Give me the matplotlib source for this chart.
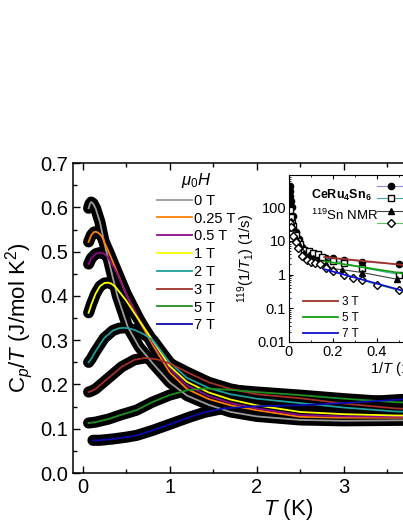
import numpy as np
import matplotlib.pyplot as plt
from matplotlib import ticker

plt.rcParams.update({
    'font.family': 'Liberation Sans',
    'mathtext.fontset': 'custom',
    'mathtext.rm': 'Liberation Sans',
    'mathtext.it': 'Liberation Sans:italic',
    'mathtext.bf': 'Liberation Sans:bold',
    'xtick.direction': 'in',
    'ytick.direction': 'in',
    'xtick.top': True,
    'ytick.right': True,
})

# --- main panel: C_p/T vs T ---
fields = ['0 T', '0.25 T', '0.5 T', '1 T', '2 T', '3 T', '5 T', '7 T']
colors = ['#9a9a9a', '#ff8000', '#8b0a8b', '#ffff00', '#1f9e9e', '#a3302a', '#1f8f1f', '#0a0ab0']

T_0 = [0.07, 0.085, 0.1, 0.12, 0.15, 0.2, 0.25, 0.31, 0.4, 0.52, 0.65, 0.81, 1.0, 1.2, 1.45, 1.7, 2.0, 2.5, 3.0, 3.6, 4.2, 4.8]
C_0 = [0.598, 0.608, 0.612, 0.609, 0.598, 0.567, 0.52, 0.472, 0.40, 0.33, 0.285, 0.247, 0.205, 0.175, 0.154, 0.138, 0.128, 0.120, 0.118, 0.119, 0.120, 0.121]

T_025 = [0.07, 0.1, 0.13, 0.15, 0.18, 0.22, 0.3, 0.39, 0.5, 0.65, 0.81, 1.0, 1.2, 1.45, 1.7, 2.0, 2.5, 3.0, 3.6, 4.2, 4.8]
C_025 = [0.522, 0.537, 0.544, 0.545, 0.543, 0.535, 0.50, 0.457, 0.405, 0.345, 0.288, 0.228, 0.190, 0.167, 0.153, 0.142, 0.127, 0.125, 0.125, 0.126, 0.127]

T_05 = [0.07, 0.1, 0.15, 0.2, 0.25, 0.3, 0.4, 0.5, 0.65, 0.81, 1.0, 1.2, 1.45, 1.7, 2.0, 2.5, 3.0, 3.6, 4.2, 4.8]
C_05 = [0.472, 0.485, 0.495, 0.498, 0.495, 0.485, 0.45, 0.405, 0.348, 0.294, 0.236, 0.198, 0.174, 0.158, 0.146, 0.131, 0.128, 0.127, 0.128, 0.129]

T_1 = [0.07, 0.1, 0.15, 0.2, 0.25, 0.29, 0.33, 0.38, 0.5, 0.65, 0.81, 1.0, 1.2, 1.45, 1.7, 2.0, 2.5, 3.0, 3.6, 4.2, 4.8]
C_1 = [0.362, 0.38, 0.405, 0.422, 0.429, 0.43, 0.428, 0.42, 0.39, 0.345, 0.298, 0.242, 0.206, 0.182, 0.166, 0.153, 0.138, 0.133, 0.130, 0.130, 0.131]

T_2 = [0.07, 0.1, 0.15, 0.25, 0.35, 0.42, 0.47, 0.53, 0.6, 0.7, 0.81, 1.0, 1.2, 1.45, 1.7, 2.0, 2.5, 3.0, 3.6, 4.2, 4.8]
C_2 = [0.25, 0.258, 0.275, 0.305, 0.322, 0.327, 0.328, 0.327, 0.323, 0.314, 0.300, 0.250, 0.215, 0.192, 0.178, 0.168, 0.158, 0.148, 0.139, 0.136, 0.136]

T_3 = [0.07, 0.1, 0.15, 0.3, 0.45, 0.6, 0.72, 0.85, 1.0, 1.2, 1.45, 1.7, 2.0, 2.5, 3.0, 3.6, 4.2, 4.8]
C_3 = [0.183, 0.185, 0.19, 0.215, 0.24, 0.256, 0.26, 0.257, 0.248, 0.228, 0.205, 0.19, 0.178, 0.169, 0.157, 0.146, 0.142, 0.14]

T_5 = [0.07, 0.15, 0.3, 0.45, 0.62, 0.8, 1.0, 1.2, 1.4, 1.7, 2.0, 2.5, 3.0, 3.6, 4.2, 4.8]
C_5 = [0.113, 0.115, 0.122, 0.132, 0.142, 0.16, 0.176, 0.187, 0.191, 0.188, 0.183, 0.176, 0.168, 0.16, 0.156, 0.154]

T_7 = [0.12, 0.2, 0.35, 0.5, 0.62, 0.8, 1.0, 1.24, 1.4, 1.62, 2.0, 2.5, 3.0, 3.65, 4.2, 4.8]
C_7 = [0.074, 0.074, 0.077, 0.081, 0.085, 0.096, 0.11, 0.127, 0.137, 0.146, 0.151, 0.153, 0.158, 0.166, 0.17, 0.174]

T_all = [T_0, T_025, T_05, T_1, T_2, T_3, T_5, T_7]
C_all = [C_0, C_025, C_05, C_1, C_2, C_3, C_5, C_7]

# --- inset: 119Sn NMR 1/T1 vs 1/T ---
x_circ = [0.003, 0.005, 0.007, 0.01, 0.014, 0.02, 0.03, 0.045, 0.06, 0.08, 0.1, 0.12, 0.14, 0.167, 0.2, 0.25, 0.333, 0.5]
y_circ = [420, 300, 220, 150, 100, 56, 18, 11, 6.5, 5, 4.2, 3.8, 3.4, 3.2, 3.0, 2.8, 2.4, 2.0]
x_sq = [0.005, 0.01, 0.015, 0.02, 0.03, 0.04, 0.05, 0.07, 0.09, 0.11, 0.13, 0.15, 0.2, 0.25, 0.333, 0.5]
y_sq = [80, 50, 35, 28, 15, 10, 8, 5.5, 5, 4.5, 4, 3.3, 2.6, 2.2, 1.6, 1.0]
x_tri = [0.01, 0.02, 0.03, 0.05, 0.07, 0.09, 0.11, 0.13, 0.167, 0.2, 0.24, 0.333, 0.49]
y_tri = [40, 25, 12, 7, 4.5, 3.8, 3.2, 2.6, 2.0, 1.5, 1.4, 1.15, 0.73]
x_dia = [0.005, 0.01, 0.02, 0.03, 0.04, 0.06, 0.08, 0.1, 0.12, 0.14, 0.17, 0.2, 0.25, 0.29, 0.333, 0.4, 0.5]
y_dia = [35, 25, 14, 9, 6, 3.5, 2.8, 2.4, 2.2, 2.0, 1.6, 1.3, 1.0, 0.8, 0.68, 0.5, 0.34]
inset_labels = ['1 T', '3 T', '5 T', '7 T']

fit_x = [0.16, 0.55]
fit_3T = [3.3, 1.85]
fit_5T = [2.5, 1.0]
fit_7T = [1.45, 0.29]

fig = plt.figure(figsize=(4.03, 5.21), dpi=100)
ax = fig.add_axes([0.181, 0.092, 1.067, 0.595])

for T, C in zip(T_all, C_all):
    ax.plot(T, C, '-', c='k', lw=8, solid_capstyle='round', solid_joinstyle='round')
for T, C, col, lab in zip(T_all, C_all, colors, fields):
    ax.plot(T, C, '-', c=col, lw=1.3, label=lab)

ax.set_xlim(-0.11, 4.83)
ax.set_ylim(0, 0.7)
ax.xaxis.set_major_locator(ticker.MultipleLocator(1))
ax.xaxis.set_minor_locator(ticker.MultipleLocator(0.5))
ax.yaxis.set_major_locator(ticker.MultipleLocator(0.1))
ax.yaxis.set_minor_locator(ticker.MultipleLocator(0.05))
ax.yaxis.set_major_formatter(ticker.FormatStrFormatter('%.1f'))
ax.tick_params(which='major', length=5, width=1, labelsize=14.5)
ax.tick_params(which='minor', length=3, width=1, top=True, right=True)
for sp in ax.spines.values():
    sp.set_linewidth(1.1)
ax.set_xlabel(r'$T$ (K)', fontsize=16, labelpad=0)
ax.set_ylabel(r'C$_p$/$T$ (J/mol K$^2$)', fontsize=16, labelpad=4)

leg = ax.legend(loc='upper left', bbox_to_anchor=(157 / 403, 1 - 171 / 521),
                bbox_transform=fig.transFigure, frameon=False, fontsize=10.5,
                title=r'$\mu_0H$', title_fontsize=12, handlelength=2.4,
                handletextpad=0.15, labelspacing=0.26, borderpad=0, borderaxespad=0)

# inset
axi = fig.add_axes([0.717, 0.3436, 0.546, 0.3205])
axi.set_facecolor('white')
axi.plot(x_circ, y_circ, 'o-', c='#8a8ad8', lw=0.8, mfc='k', mec='k', ms=4.5, label=inset_labels[0])
axi.plot(x_sq, y_sq, 's-', c='#40a8a8', lw=0.8, mfc='white', mec='k', ms=4.5, label=inset_labels[1])
axi.plot(x_tri, y_tri, '^-', c='#404040', lw=0.8, mfc='k', mec='k', ms=4.5, label=inset_labels[2])
axi.plot(x_dia, y_dia, 'D-', c='#60c060', lw=0.8, mfc='white', mec='k', ms=4, label=inset_labels[3])
l1, = axi.plot(fit_x, fit_3T, '-', c='#a3302a', lw=1.3, label='3 T')
l2, = axi.plot(fit_x, fit_5T, '-', c='#10a010', lw=1.3, label='5 T')
l3, = axi.plot(fit_x, fit_7T, '-', c='#1010d0', lw=1.3, label='7 T')

axi.set_yscale('log')
axi.set_xlim(0, 1.0)
axi.set_ylim(0.01, 900)
axi.xaxis.set_major_locator(ticker.MultipleLocator(0.2))
axi.xaxis.set_minor_locator(ticker.MultipleLocator(0.1))
axi.xaxis.set_major_formatter(ticker.FuncFormatter(lambda v, p: f'{v:g}'))
axi.yaxis.set_major_locator(ticker.LogLocator(base=10, numticks=10))
axi.yaxis.set_major_formatter(ticker.FuncFormatter(lambda v, p: f'{v:g}'))
axi.tick_params(which='major', length=3, width=0.8, labelsize=10.5, pad=2)
axi.tick_params(which='minor', length=1.5, width=0.6, top=True, right=True)
for sp in axi.spines.values():
    sp.set_linewidth(0.8)
axi.set_xlabel(r'1/$T$ (1/K)', fontsize=10.5, labelpad=1)
axi.set_ylabel(r'$^{119}$(1/$T_1$) (1/s)', fontsize=10.5)
axi.yaxis.set_label_coords(-0.145, 0.5)
axi.text(0.1, 0.88, r'$\mathbf{CeRu_4Sn_6}$', transform=axi.transAxes, fontsize=9, va='center')
axi.text(0.1, 0.76, r'$^{119}$Sn NMR', transform=axi.transAxes, fontsize=9.5, va='center')

h, lab = axi.get_legend_handles_labels()
leg_sym = axi.legend(h[:4], lab[:4], loc='upper left', bbox_to_anchor=(377 / 403, 1 - 182 / 521),
                     bbox_transform=fig.transFigure, frameon=False, fontsize=8,
                     handlelength=2.6, labelspacing=0.2, borderpad=0, borderaxespad=0)
axi.add_artist(leg_sym)
axi.legend([l1, l2, l3], ['3 T', '5 T', '7 T'], loc='upper left',
           bbox_to_anchor=(303 / 403, 1 - 296 / 521), bbox_transform=fig.transFigure,
           frameon=False, fontsize=8.5, handlelength=3.0, handletextpad=0.3,
           labelspacing=0.35, borderpad=0, borderaxespad=0)

plt.savefig('out.png', dpi=100)
